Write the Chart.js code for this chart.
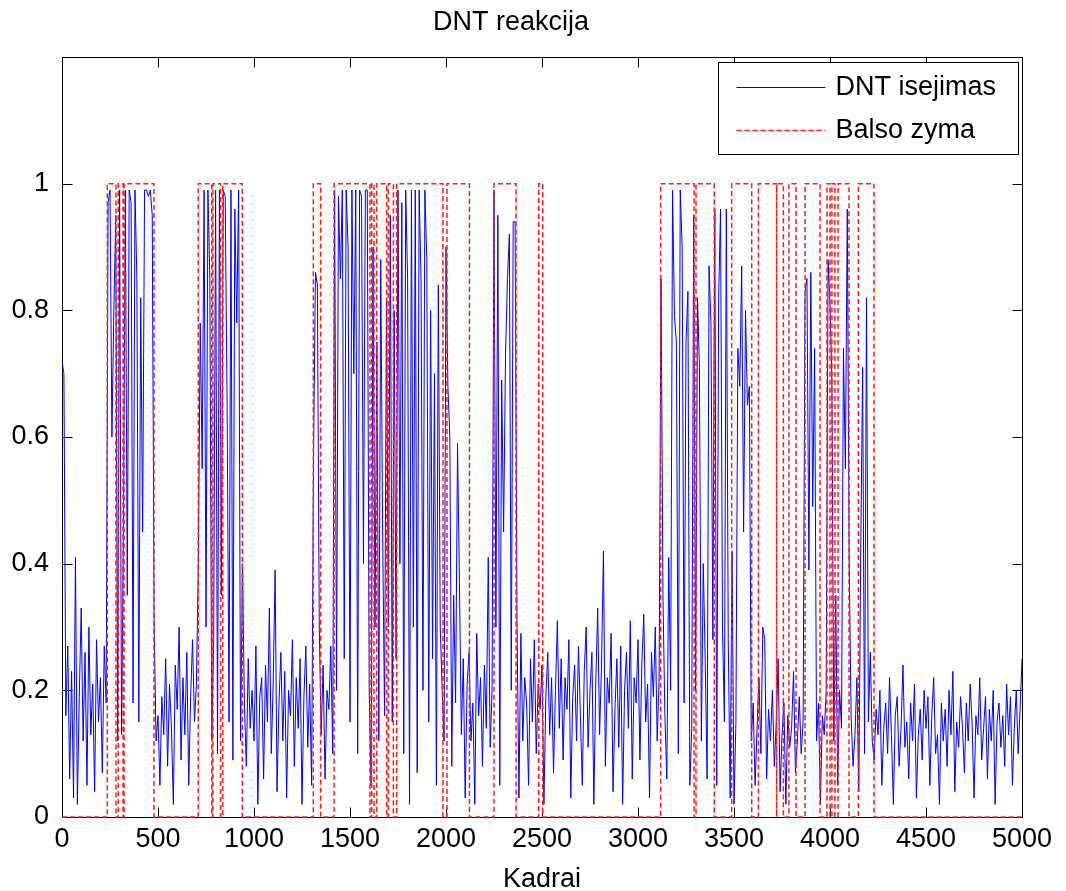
<!DOCTYPE html>
<html>
<head>
<meta charset="utf-8">
<script src="https://cdn.jsdelivr.net/npm/chart.js@4.4.1/dist/chart.umd.min.js"></script>
<style>
html,body{margin:0;padding:0;background:#fff;}
canvas{display:block;}
</style>
</head>
<body>
<canvas id="c" width="1066" height="891"></canvas>
<script>
// ---- DATA ----
const chartTitle = 'DNT reakcija';
const xAxisTitle = 'Kadrai';
const seriesNames = ['DNT isejimas', 'Balso zyma'];
const xTickValues = [0, 500, 1000, 1500, 2000, 2500, 3000, 3500, 4000, 4500, 5000];
const yTickValues = [0, 0.2, 0.4, 0.6, 0.8, 1];
const yTickLabels = ['0', '0.2', '0.4', '0.6', '0.8', '1'];
const frameStep = 10; // blue samples are read every 10 frames (Kadrai)
const dntOutput = [
0.72,0.70,0.16,0.27,0.06,0.23,0.03,0.41,0.02,0.19,
0.33,0.12,0.26,0.05,0.30,0.13,0.21,0.04,0.28,0.15,
0.22,0.07,0.27,0.18,0.97,0.99,0.60,0.80,0.95,0.12,
0.99,0.13,0.45,0.99,0.35,0.99,0.97,0.18,0.99,0.85,
0.15,0.82,0.45,0.99,0.99,0.98,0.99,0.95,0.30,0.12,
0.16,0.05,0.19,0.13,0.25,0.08,0.21,0.14,0.02,0.24,
0.17,0.30,0.09,0.22,0.13,0.26,0.05,0.19,0.28,0.15,
0.21,0.40,0.78,0.55,0.99,0.30,0.99,0.85,0.12,0.28,
0.99,0.10,0.99,0.35,0.99,0.98,0.65,0.15,0.99,0.09,
0.96,0.78,0.99,0.12,0.40,0.18,0.08,0.25,0.14,0.20,
0.12,0.27,0.02,0.19,0.22,0.06,0.24,0.15,0.33,0.10,
0.21,0.39,0.04,0.18,0.26,0.12,0.23,0.03,0.20,0.16,
0.28,0.08,0.22,0.14,0.25,0.02,0.19,0.27,0.11,0.21,
0.05,0.57,0.86,0.84,0.30,0.13,0.24,0.06,0.20,0.17,
0.27,0.10,0.99,0.20,0.98,0.85,0.99,0.25,0.99,0.90,
0.15,0.99,0.70,0.99,0.10,0.99,0.98,0.40,0.99,0.99,
0.20,0.05,0.90,0.30,0.75,0.12,0.88,0.45,0.16,0.82,
0.30,0.95,0.15,0.80,0.25,0.99,0.40,0.97,0.10,0.99,
0.85,0.02,0.99,0.30,0.99,0.07,0.99,0.85,0.20,0.99,
0.88,0.15,0.80,0.25,0.70,0.05,0.84,0.30,0.20,0.12,
0.90,0.68,0.60,0.08,0.35,0.18,0.59,0.37,0.13,0.25,
0.03,0.21,0.26,0.12,0.18,0.02,0.29,0.16,0.22,0.08,
0.24,0.14,0.41,0.11,0.20,0.99,0.30,0.95,0.05,0.69,
0.45,0.73,0.85,0.92,0.20,0.94,0.94,0.30,0.03,0.29,
0.12,0.22,0.18,0.05,0.25,0.15,0.28,0.10,0.21,0.17,
0.24,0.02,0.19,0.26,0.13,0.22,0.07,0.20,0.31,0.14,
0.25,0.09,0.22,0.17,0.28,0.03,0.19,0.24,0.12,0.27,
0.16,0.05,0.23,0.30,0.11,0.20,0.26,0.02,0.21,0.33,
0.13,0.24,0.42,0.08,0.22,0.18,0.29,0.04,0.17,0.25,
0.11,0.27,0.02,0.20,0.26,0.14,0.31,0.06,0.22,0.18,
0.28,0.09,0.24,0.32,0.15,0.21,0.03,0.26,0.19,0.30,
0.12,0.22,0.85,0.35,0.16,0.06,0.41,0.20,0.99,0.79,
0.75,0.10,0.99,0.90,0.18,0.75,0.83,0.05,0.14,0.95,
0.20,0.82,0.71,0.12,0.40,0.25,0.06,0.87,0.78,0.28,
0.96,0.05,0.82,0.96,0.30,0.15,0.96,0.28,0.03,0.42,
0.02,0.15,0.74,0.68,0.87,0.45,0.80,0.65,0.68,0.12,
0.18,0.05,0.14,0.22,0.10,0.30,0.28,0.06,0.17,0.12,
0.20,0.08,0.15,0.25,0.04,0.13,0.18,0.02,0.16,0.11,
0.14,0.23,0.07,0.12,0.19,0.10,0.15,0.83,0.85,0.39,
0.86,0.49,0.74,0.12,0.18,0.02,0.16,0.13,0.20,0.88,
0.81,0.69,0.12,0.35,0.05,0.20,0.14,0.74,0.55,0.96,
0.40,0.16,0.08,0.13,0.22,0.04,0.42,0.71,0.10,0.82,
0.15,0.26,0.12,0.09,0.17,0.13,0.20,0.05,0.14,0.18,
0.10,0.22,0.13,0.02,0.16,0.19,0.08,0.14,0.24,0.11,
0.15,0.06,0.18,0.12,0.21,0.03,0.13,0.17,0.09,0.20,
0.14,0.19,0.05,0.16,0.22,0.10,0.13,0.02,0.18,0.12,
0.17,0.08,0.20,0.13,0.23,0.04,0.15,0.11,0.19,0.14,
0.07,0.18,0.12,0.21,0.15,0.03,0.16,0.13,0.22,0.09,
0.14,0.19,0.06,0.17,0.12,0.20,0.02,0.15,0.18,0.11,
0.16,0.08,0.21,0.13,0.19,0.05,0.14,0.20,0.10,0.17,
0.25
];
// voice-label (Balso zyma) intervals where the label is 1
const voiceStarts = [236, 293, 323, 710, 786, 837, 1309, 1417, 1613, 1639, 1700, 1743, 2005, 2250, 2483, 3118, 3302, 3488, 3627, 3722, 3786, 3870, 3984, 4010, 4042, 4148];
const voiceEnds   = [281, 318, 479, 780, 826, 939, 1347, 1604, 1625, 1691, 1726, 1984, 2122, 2365, 2504, 3292, 3397, 3592, 3722, 3757, 3823, 3948, 4000, 4026, 4099, 4229];
const frameMax = 5000;

// ---- build datasets from data ----
const bluePts = dntOutput.map((v, i) => ({x: i * frameStep, y: v}));
const redPts = [{x: 0, y: 0}];
for (let i = 0; i < voiceStarts.length; i++) {
  redPts.push({x: voiceStarts[i], y: 0}, {x: voiceStarts[i], y: 1}, {x: voiceEnds[i], y: 1}, {x: voiceEnds[i], y: 0});
}
redPts.push({x: frameMax, y: 0});

const FONT = 'Liberation Sans, Arial, Helvetica, sans-serif';
const FS = 27;
const BLUE = '#0000ff';
const RED = '#ff1a1a';
const DASH = [5, 3];

const boxPlugin = {
  id: 'matlabBox',
  beforeDatasetsDraw(chart) {
    const {ctx, chartArea: a, scales: {x, y}} = chart;
    ctx.save();
    ctx.strokeStyle = '#000';
    ctx.lineWidth = 1;
    const L = Math.round(a.left) + 0.5, R = Math.round(a.right) + 0.5;
    const T = Math.round(a.top) + 0.5, B = Math.round(a.bottom) + 0.5;
    ctx.strokeRect(L, T, R - L, B - T);
    const tl = 10;
    ctx.beginPath();
    xTickValues.forEach(v => {
      const px = Math.round(x.getPixelForValue(v)) + 0.5;
      ctx.moveTo(px, B); ctx.lineTo(px, B - tl);
      ctx.moveTo(px, T); ctx.lineTo(px, T + tl);
    });
    yTickValues.forEach(v => {
      const py = Math.round(y.getPixelForValue(v)) + 0.5;
      ctx.moveTo(L, py); ctx.lineTo(L + tl, py);
      ctx.moveTo(R, py); ctx.lineTo(R - tl, py);
    });
    ctx.stroke();
    ctx.restore();
  },
  afterDraw(chart) {
    const {ctx, chartArea: a} = chart;
    ctx.save();
    const bw = 300, bh = 92;
    const bx = Math.round(a.right) - 4 - bw + 0.5;
    const by = Math.round(a.top) + 5 + 0.5;
    ctx.fillStyle = '#fff';
    ctx.fillRect(bx, by, bw, bh);
    ctx.strokeStyle = '#000';
    ctx.lineWidth = 1;
    ctx.strokeRect(bx, by, bw, bh);
    const rows = [by + 25, by + 68];
    const colors = [BLUE, RED];
    const dashes = [[], DASH];
    const widths = [1, 1.5];
    for (let i = 0; i < 2; i++) {
      ctx.beginPath();
      ctx.setLineDash(dashes[i]);
      ctx.strokeStyle = colors[i];
      ctx.lineWidth = widths[i];
      ctx.moveTo(bx + 18, rows[i]);
      ctx.lineTo(bx + 107, rows[i]);
      ctx.stroke();
      ctx.setLineDash([]);
      ctx.fillStyle = '#000';
      ctx.font = FS + 'px ' + FONT;
      ctx.textBaseline = 'middle';
      ctx.textAlign = 'left';
      ctx.fillText(seriesNames[i], bx + 117, rows[i]);
    }
    ctx.restore();
  }
};

new Chart(document.getElementById('c'), {
  type: 'line',
  data: {
    datasets: [
      {label: seriesNames[0], data: bluePts, borderColor: BLUE, borderWidth: 1, pointRadius: 0, tension: 0, order: 1, fill: false},
      {label: seriesNames[1], data: redPts, borderColor: RED, borderWidth: 1.5, borderDash: DASH, pointRadius: 0, tension: 0, order: 0, fill: false, clip: 4}
    ]
  },
  options: {
    responsive: false,
    animation: false,
    devicePixelRatio: 1,
    events: [],
    layout: {padding: {left: 0, right: 44, top: 0, bottom: 0}},
    plugins: {
      legend: {display: false},
      tooltip: {enabled: false},
      title: {display: true, text: chartTitle, color: '#000', font: {family: FONT, size: FS, weight: 'normal'}, padding: {top: 6, bottom: 18.6}}
    },
    scales: {
      x: {
        type: 'linear', min: 0, max: frameMax,
        afterBuildTicks: s => { s.ticks = xTickValues.map(v => ({value: v})); },
        ticks: {color: '#000', font: {family: FONT, size: FS}, padding: -2, maxRotation: 0, autoSkip: false, callback: v => String(v)},
        grid: {display: false}, border: {display: false},
        title: {display: true, text: xAxisTitle, color: '#000', font: {family: FONT, size: FS}, padding: {top: -5, bottom: -5}},
        afterFit: s => { s.height = 74; }
      },
      y: {
        type: 'linear', min: 0, max: 1.2,
        afterBuildTicks: s => { s.ticks = yTickValues.map(v => ({value: v})); },
        ticks: {color: '#000', font: {family: FONT, size: FS}, padding: 5, callback: (v) => yTickLabels[yTickValues.indexOf(v)] ?? ''},
        grid: {display: false}, border: {display: false},
        afterFit: s => { s.width = 62; }
      }
    }
  },
  plugins: [boxPlugin]
});
</script>
</body>
</html>
